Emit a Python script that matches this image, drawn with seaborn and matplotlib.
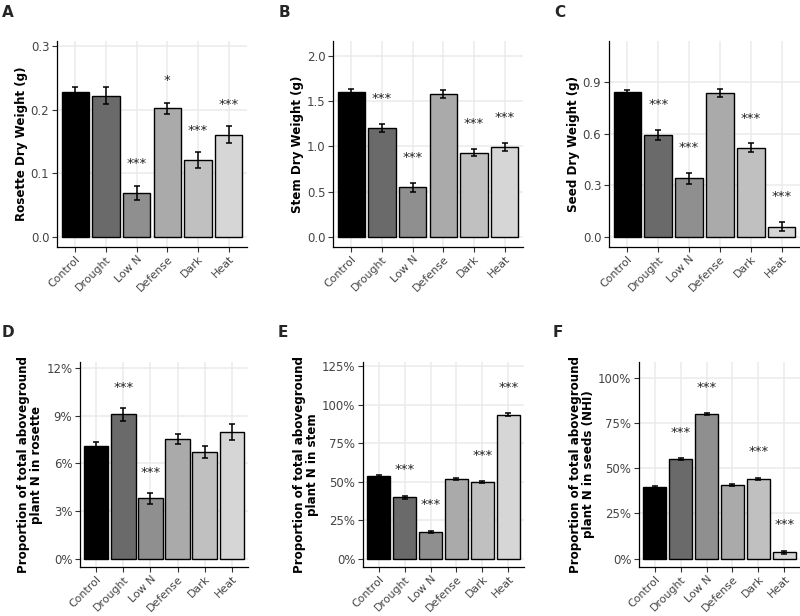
import numpy as np
import matplotlib
matplotlib.use("Agg")
import matplotlib.pyplot as plt
from matplotlib.ticker import FormatStrFormatter, PercentFormatter
import seaborn as sns

# treatment groups (same order in every panel)
categories = ["Control", "Drought", "Low N", "Defense", "Dark", "Heat"]
bar_colors = ["#000000", "#6a6a6a", "#8f8f8f", "#aaaaaa", "#c0c0c0", "#d6d6d6"]

# A - rosette dry weight (g)
rosette_dw = [0.228, 0.222, 0.069, 0.202, 0.121, 0.161]
rosette_dw_se = [0.008, 0.013, 0.011, 0.009, 0.012, 0.013]
rosette_dw_sig = ["", "", "***", "*", "***", "***"]

# B - stem dry weight (g)
stem_dw = [1.60, 1.20, 0.55, 1.58, 0.93, 0.99]
stem_dw_se = [0.03, 0.045, 0.05, 0.045, 0.037, 0.047]
stem_dw_sig = ["", "***", "***", "", "***", "***"]

# C - seed dry weight (g)
seed_dw = [0.842, 0.594, 0.341, 0.840, 0.519, 0.058]
seed_dw_se = [0.017, 0.029, 0.031, 0.023, 0.025, 0.027]
seed_dw_sig = ["", "***", "***", "", "***", "***"]

# D - % of aboveground N in rosette
rosette_n = [7.11, 9.08, 3.80, 7.53, 6.71, 7.97]
rosette_n_se = [0.23, 0.42, 0.33, 0.30, 0.38, 0.48]
rosette_n_sig = ["", "***", "***", "", "", ""]

# E - % of aboveground N in stem
stem_n = [53.6, 39.8, 17.3, 51.7, 49.5, 93.4]
stem_n_se = [0.4, 0.8, 0.6, 0.5, 0.6, 0.8]
stem_n_sig = ["", "***", "***", "", "***", "***"]

# F - % of aboveground N in seeds (NHI)
seed_n = [39.6, 54.9, 79.7, 40.5, 44.0, 3.5]
seed_n_se = [0.5, 0.6, 0.6, 0.5, 0.6, 0.8]
seed_n_sig = ["", "***", "***", "", "***", "***"]


sns.set_theme(style="white")
plt.rcParams["font.family"] = ["DejaVu Sans"]

W, H = 800, 616
fig = plt.figure(figsize=(W / 100, H / 100), dpi=100)


def px_axes(left, right, top, bottom):
    return fig.add_axes([left / W, 1 - bottom / H, (right - left) / W, (bottom - top) / H])


# panel specs: data, axes box in pixels, y settings
panels = [
    dict(letter="A", vals=rosette_dw, se=rosette_dw_se, sig=rosette_dw_sig,
         box=(57, 247, 41, 247), lbx=2, lby=5,
         ylabel="Rosette Dry Weight (g)", ylim=(-0.0157, 0.308),
         ticks=[0, 0.1, 0.2, 0.3], fmt="num", pad=0.035),
    dict(letter="B", vals=stem_dw, se=stem_dw_se, sig=stem_dw_sig,
         box=(333, 523, 41, 247), lbx=279, lby=5,
         ylabel="Stem Dry Weight (g)", ylim=(-0.11, 2.16),
         ticks=[0, 0.5, 1.0, 1.5, 2.0], fmt="num", pad=0.28),
    dict(letter="C", vals=seed_dw, se=seed_dw_se, sig=seed_dw_sig,
         box=(609, 800, 41, 247), lbx=554, lby=5,
         ylabel="Seed Dry Weight (g)", ylim=(-0.06, 1.142),
         ticks=[0, 0.3, 0.6, 0.9], fmt="num", pad=0.147),
    dict(letter="D", vals=rosette_n, se=rosette_n_se, sig=rosette_n_sig,
         box=(80, 248, 362, 567), lbx=2, lby=325,
         ylabel="Proportion of total aboveground\nplant N in rosette", ylim=(-0.52, 12.38),
         ticks=[0, 3, 6, 9, 12], fmt="pct", pad=1.28),
    dict(letter="E", vals=stem_n, se=stem_n_se, sig=stem_n_sig,
         box=(363, 524, 362, 567), lbx=278, lby=325,
         ylabel="Proportion of total aboveground\nplant N in stem", ylim=(-5.4, 127.6),
         ticks=[0, 25, 50, 75, 100, 125], fmt="pct", pad=17),
    dict(letter="F", vals=seed_n, se=seed_n_se, sig=seed_n_sig,
         box=(639, 800, 362, 567), lbx=553, lby=325,
         ylabel="Proportion of total aboveground\nplant N in seeds (NHI)", ylim=(-4.6, 108.6),
         ticks=[0, 25, 50, 75, 100], fmt="pct", pad=14.4),
]

for p in panels:
    ax = px_axes(*p["box"])
    sns.barplot(x=categories, y=p["vals"], hue=categories, palette=bar_colors,
                order=categories, hue_order=categories, legend=False,
                edgecolor="black", linewidth=1.0, width=0.9, ax=ax)
    xs = np.arange(len(categories))
    ax.errorbar(xs, p["vals"], yerr=p["se"], fmt="none", ecolor="black",
                elinewidth=1.1, capsize=2.2, capthick=1.1, zorder=5)

    for x, v, s, lab in zip(xs, p["vals"], p["se"], p["sig"]):
        if lab:
            ax.text(x, v + s + p["pad"], lab, ha="center", va="center",
                    fontsize=9.5, color="#222222")

    ax.set_xlim(-0.6, 5.6)
    ax.set_ylim(*p["ylim"])
    ax.set_yticks(p["ticks"])
    if p["fmt"] == "pct":
        ax.yaxis.set_major_formatter(PercentFormatter(xmax=100, decimals=0))
    else:
        ax.yaxis.set_major_formatter(FormatStrFormatter("%.1f"))

    ax.set_xlabel("")
    ax.set_ylabel(p["ylabel"], fontsize=8.6, fontweight="bold", color="black",
                  linespacing=1.0, labelpad=2)
    ax.set_xticks(xs)
    ax.set_xticklabels(categories, rotation=45, ha="right", rotation_mode="anchor")
    ax.tick_params(axis="both", which="major", direction="out", length=3.5,
                   width=0.8, color="#333333", labelcolor="#444444",
                   pad=2, bottom=True, left=True)
    ax.tick_params(axis="x", labelsize=7.9, pad=1.5)
    ax.tick_params(axis="y", labelsize=8.5)

    ax.grid(True, color="#ebebeb", linewidth=1.1)
    ax.set_axisbelow(True)
    for side in ["top", "right"]:
        ax.spines[side].set_visible(False)
    for side in ["left", "bottom"]:
        ax.spines[side].set_color("black")
        ax.spines[side].set_linewidth(0.9)

    fig.text(p["lbx"] / W, 1 - p["lby"] / H, p["letter"], fontsize=11,
             fontweight="bold", ha="left", va="top")

fig.savefig("out.png", dpi=100)
